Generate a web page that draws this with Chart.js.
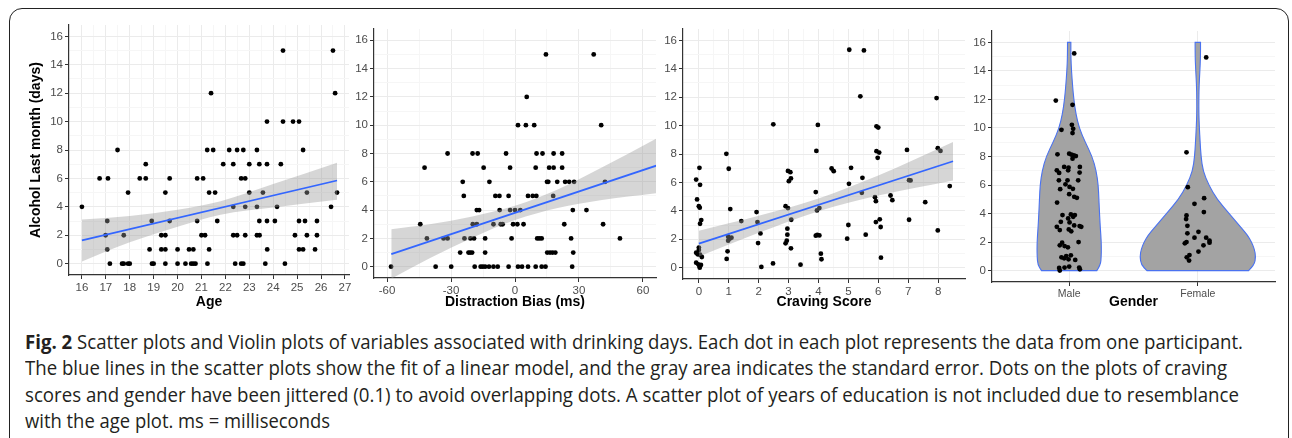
<!DOCTYPE html>
<html>
<head>
<meta charset="utf-8">
<script src="https://cdn.jsdelivr.net/npm/chart.js@4.4.1/dist/chart.umd.min.js"></script>
<style>
  html, body { margin: 0; padding: 0; background: #fff; }
  #page { position: relative; width: 1292px; height: 438px; overflow: hidden; }
  #frame { position: absolute; left: 9px; top: 8px; width: 1278px; height: 480px; border: 1.8px solid #222; border-radius: 13px; }
  canvas.panel { position: absolute; }
  #caption { position: absolute; left: 25px; top: 329px; font-family: 'Open Sans', sans-serif; font-size: 20px; color: #231f20; }
  #caption div { height: 26.3px; line-height: 26.3px; white-space: nowrap; }
  #caption span { display: inline-block; transform-origin: 0 50%; }
</style>
</head>
<body>
<div id="page">
  <div id="frame"></div>
  <canvas id="c-age" class="panel"></canvas>
  <canvas id="c-bias" class="panel"></canvas>
  <canvas id="c-craving" class="panel"></canvas>
  <canvas id="c-gender" class="panel"></canvas>
  <div id="caption">
    <div><span><b>Fig. 2</b> Scatter plots and Violin plots of variables associated with drinking days. Each dot in each plot represents the data from one participant.</span></div>
    <div><span>The blue lines in the scatter plots show the fit of a linear model, and the gray area indicates the standard error. Dots on the plots of craving</span></div>
    <div><span>scores and gender have been jittered (0.1) to avoid overlapping dots. A scatter plot of years of education is not included due to resemblance</span></div>
    <div><span>with the age plot. ms = milliseconds</span></div>
  </div>
</div>
<script>
// ---- data ----
const yTickVals = [0, 2, 4, 6, 8, 10, 12, 14, 16];

const ageTicks = [16, 17, 18, 19, 20, 21, 22, 23, 24, 25, 26, 27];
const ageX = [
  16.0, 16.74, 17.09, 17.06, 16.99, 17.06, 17.17, 17.49, 17.75, 17.68,
  17.75, 17.93, 18.0, 17.93, 18.42, 18.67, 18.67, 18.83, 18.92, 18.93,
  19.0, 19.32, 19.49, 19.32, 19.49, 19.49, 19.49, 19.67, 19.67, 20.0,
  20.0, 20.33, 20.48, 20.66, 20.57, 20.66, 20.75, 20.82, 20.82, 21.07,
  21.0, 21.15, 21.25, 21.24, 21.32, 21.32, 21.4, 21.49, 21.57, 21.66,
  21.91, 22.16, 22.33, 22.33, 22.33, 22.49, 22.41, 22.49, 22.66, 22.83,
  22.75, 22.66, 22.75, 22.83, 22.83, 23.0, 23.0, 23.32, 23.32, 23.32,
  23.43, 23.42, 23.42, 23.57, 23.67, 23.74, 23.74, 23.74, 23.75, 24.07,
  24.16, 24.32, 24.41, 24.41, 24.49, 24.83, 24.91, 25.08, 25.08, 25.08,
  25.25, 25.25, 25.33, 25.41, 25.41, 25.75, 25.83, 25.83, 26.42, 26.5,
  26.59, 26.67
];
const ageDays = [
  4, 6, 6, 3, 2, 1, 0, 8, 2, 0,
  0, 0, 0, 5, 6, 6, 7, 1, 3, 0,
  0, 2, 2, 1, 1, 5, 0, 6, 3, 1,
  0, 0, 1, 1, 0, 0, 0, 6, 3, 6,
  2, 2, 0, 8, 1, 5, 12, 8, 5, 3,
  7, 8, 7, 4, 2, 2, 0, 8, 6, 6,
  8, 0, 0, 4, 2, 7, 5, 8, 4, 2,
  2, 3, 7, 5, 0, 10, 7, 3, 1, 3,
  4, 7, 15, 10, 0, 10, 2, 10, 3, 1,
  8, 1, 3, 5, 2, 1, 3, 2, 4, 15,
  12, 5
];
const ageFitX = [16, 26.67];
const ageFitY = [1.64, 5.85];
const ageBandX = [16, 18, 20, 21.8, 24, 26.67];
const ageBandLow = [0.15, 1.5, 2.6, 3.45, 3.95, 4.5];
const ageBandHigh = [3.1, 3.35, 3.8, 4.4, 5.6, 7.1];

const biasTicks = [-60, -30, 0, 30, 60];
const biasX = [
  -58.1, -44.4, -42.4, -41.3, -37.2, -33.5, -31.6, -31.6, -29.9, -25.7,
  -24.5, -24.0, -23.7, -21.8, -21.0, -20.1, -20.9, -19.2, -19.9, -17.5,
  -19.8, -17.9, -18.9, -17.9, -16.8, -16.1, -15.1, -14.7, -14.0, -14.0,
  -14.0, -12.2, -10.1, -8.1, -12.0, -10.1, -9.2, -7.3, -7.2, -6.7,
  -5.8, -4.2, -3.0, -3.0, -2.3, -2.3, -1.6, -0.9, 1.1, 0,
  2.5, 1.4, 1.4, 3.3, 4.0, 5.5, 5.1, 6.1, 6.1, 8.3,
  10.0, 9.0, 9.7, 9.7, 10.1, 12.9, 10.4, 11.4, 12.5, 12.5,
  14.3, 14.5, 15.0, 15.6, 15.1, 16.4, 17.6, 18.9, 16.0, 18.1,
  17.9, 18.1, 19.8, 22.1, 22.1, 23.1, 23.5, 25.4, 27.7, 26.3,
  27.1, 27.3, 26.8, 33.5, 36.9, 40.4, 41.3, 42.2, 49.2
];
const biasDays = [
  0, 3, 7, 2, 0, 2, 2, 8, 0, 1,
  6, 5, 2, 1, 1, 1, 2, 2, 8, 8,
  3, 3, 0, 4, 4, 0, 0, 7, 2, 1,
  0, 0, 0, 0, 6, 3, 5, 5, 4, 3,
  3, 8, 5, 0, 7, 4, 2, 3, 3, 4,
  4, 10, 0, 0, 3, 12, 10, 5, 0, 5,
  5, 10, 7, 0, 8, 8, 2, 2, 2, 0,
  0, 15, 6, 6, 1, 1, 1, 1, 7, 7,
  5, 8, 6, 8, 7, 3, 6, 6, 6, 2,
  4, 1, 0, 4, 15, 10, 3, 6, 2
];
const biasFitX = [-58, 66.2];
const biasFitY = [0.89, 7.14];
const biasBandX = [-58, -40, -20, 0, 20, 40, 66.2];
const biasBandLow = [-0.85, 0.6, 2.05, 3.3, 4.15, 4.7, 5.2];
const biasBandHigh = [2.65, 3.0, 3.55, 4.3, 5.45, 6.95, 9.05];

const cravingTicks = [0, 1, 2, 3, 4, 5, 6, 7, 8];
const cravingX = [
  -0.09, 0.02, 0.04, -0.06, 0, 0.03, 0.08, 0.04, 0, 0,
  -0.09, -0.04, 0.04, 0.1, -0.09, -0.02, 0.02, 0.07, 0.03, 0.92,
  1.0, 1.05, 0.98, 1.03, 1.09, 0.98, 0.96, 0.93, 1.42, 1.93,
  1.96, 2.06, 1.98, 2.09, 2.49, 2.48, 2.9, 2.98, 2.98, 3.06,
  3.01, 3.08, 3.09, 2.96, 2.96, 2.94, 2.9, 3.08, 3.4, 3.93,
  3.98, 3.91, 3.95, 4.03, 3.91, 3.96, 4.03, 4.08, 4.1, 4.44,
  4.51, 5.03, 5.52, 5.4, 5.09, 5.02, 5.47, 5.45, 5.0, 4.96,
  5.58, 5.94, 6.0, 5.94, 6.03, 5.98, 5.89, 5.92, 5.92, 6.05,
  6.08, 6.09, 6.41, 6.47, 6.96, 7.03, 7.08, 7.03, 7.57, 7.95,
  7.99, 8.08, 7.99, 8.39
];
const cravingDays = [
  6.2, 7.03, 5.83, 4.8, 4.33, 4.22, 3.35, 3.09, 1.41, 1.24,
  1.05, 0.94, 0.91, 0.75, 0.35, 0.23, 0.12, 0.19, 0, 8.01,
  6.96, 4.12, 2.18, 2.04, 2.11, 1.9, 1.15, 0.61, 3.28, 3.91,
  3.21, 2.41, 1.73, 0.05, 10.09, 0.3, 4.33, 4.19, 6.81, 6.72,
  6.09, 6.28, 3.37, 2.74, 2.32, 1.9, 1.71, 1.36, 0.21, 8.22,
  10.05, 5.32, 4.03, 4.19, 2.25, 2.3, 2.27, 0.98, 0.59, 6.98,
  6.79, 15.34, 15.29, 12.06, 7.03, 5.9, 6.32, 5.27, 3.0, 2.04,
  2.32, 9.95, 9.86, 8.2, 8.1, 7.73, 4.96, 4.68, 3.21, 3.4,
  2.86, 0.7, 5.08, 4.75, 8.29, 6.16, 6.14, 3.37, 4.61, 11.94,
  8.41, 8.22, 2.62, 5.74
];
const cravingFitX = [0, 8.5];
const cravingFitY = [1.69, 7.49];
const cravingBandX = [0, 2, 4, 6, 8.5];
const cravingBandLow = [0.79, 2.45, 3.97, 5.08, 6.14];
const cravingBandHigh = [2.6, 3.65, 4.87, 6.48, 8.84];

const genderCats = ['Male', 'Female'];
const maleX = [
  1.039, 0.896, 1.026, 1.021, 1.031, 1.026, 0.94, 0.909, 1.0, 1.018,
  1.036, 1.052, 1.026, 0.961, 0.995, 1.083, 0.904, 0.922, 0.992, 1.081,
  0.92, 0.987, 1.07, 0.971, 1.003, 1.029, 0.93, 1.0, 1.039, 1.06,
  0.906, 0.948, 1.013, 1.031, 1.044, 0.992, 0.935, 1.003, 1.039, 0.904,
  1.081, 1.094, 0.927, 0.997, 1.016, 1.073, 0.945, 0.927, 0.964, 0.99,
  0.94, 0.961, 0.977, 0.995, 1.013, 1.047, 0.922, 0.964, 1.0, 1.078,
  1.083, 0.927
];
const maleDays = [
  15.23, 11.92, 11.62, 10.22, 9.94, 9.64, 9.87, 8.15, 8.2, 8.13,
  8.08, 8.03, 7.85, 7.27, 7.22, 7.27, 7.03, 6.85, 7.03, 6.87,
  6.33, 6.33, 6.33, 6.05, 5.87, 5.73, 5.71, 5.36, 5.17, 5.1,
  4.77, 3.89, 3.94, 3.77, 3.89, 3.66, 3.42, 3.38, 3.17, 3.07,
  3.12, 3.07, 2.84, 2.89, 2.75, 2.0, 1.96, 1.77, 1.72, 1.63,
  0.93, 0.86, 1.02, 0.79, 1.07, 0.75, 0.19, 0.21, 0.28, 0.21,
  0.09, 0.0
];
const femaleX = [
  2.065, 1.912, 1.922, 2.049, 1.974, 2.047, 1.912, 1.909, 1.919, 1.919,
  2.005, 1.974, 2.065, 2.091, 2.091, 1.912, 1.899, 2.044, 2.005, 1.935,
  1.914, 1.932
];
const femaleDays = [
  14.95, 8.29, 5.85, 5.08, 4.68, 4.1, 3.87, 3.61, 3.14, 2.61,
  2.72, 2.31, 2.31, 2.1, 1.96, 2.0, 1.91, 1.77, 1.33, 1.09,
  0.93, 0.7
];
// violin outline: half width (in category units) at each level of days
const violinLevels = [0, 0.4, 1, 1.5, 2, 2.5, 3, 4, 5, 6, 7, 8, 9, 10, 11, 12, 13, 14, 15, 16];
const maleHalfWidth = [0.215, 0.244, 0.249, 0.25, 0.249, 0.246, 0.242, 0.236, 0.231, 0.226, 0.21, 0.179, 0.125, 0.078, 0.052, 0.036, 0.026, 0.018, 0.013, 0.013];
const femaleHalfWidth = [0.395, 0.44, 0.45, 0.44, 0.418, 0.385, 0.338, 0.243, 0.15, 0.085, 0.04, 0.025, 0.018, 0.012, 0.008, 0.008, 0.01, 0.016, 0.021, 0.021];

// ---- styling ----
const AXIS_FONT = "'Liberation Sans', Arial, Helvetica, sans-serif";
const TICK_COLOR = '#4d4d4d';
const GRID_MAJOR = '#ebebeb';
const GRID_MINOR = '#f6f6f6';
const FIT_BLUE = '#3366ff';
const BAND_FILL = 'rgba(153,153,153,0.4)';
const NONE = 'rgba(0,0,0,0)';
const DOT_R = 2.4;

const zip = (xs, ys) => xs.map((x, i) => ({x: x, y: ys[i]}));

// major ticks with minor ticks half way between them
function withMinors(majors, addMinors) {
    const out = [];
    majors.forEach((v, i) => {
        out.push({value: v});
        if (addMinors && i < majors.length - 1) {
            out.push({value: (v + majors[i + 1]) / 2, minor: true});
        }
    });
    return out;
}

function axis(min, max, majors, opts) {
    return {
        type: 'linear',
        min: min,
        max: max,
        afterBuildTicks: s => { s.ticks = withMinors(majors, opts.minors !== false); },
        afterFit: s => {
            if (opts.width !== undefined) s.width = opts.width;
            if (opts.height !== undefined) s.height = opts.height;
        },
        ticks: {
            autoSkip: false,
            maxRotation: 0,
            color: TICK_COLOR,
            padding: 2,
            font: {family: AXIS_FONT, size: opts.tickSize || 11.5},
            callback: (v, i, ticks) => ticks[i].minor ? '' : (opts.label ? opts.label(v) : String(v))
        },
        grid: {
            color: c => (c.tick && c.tick.minor) ? GRID_MINOR : GRID_MAJOR,
            tickColor: c => (c.tick && c.tick.minor) ? NONE : '#333',
            tickLength: 4,
            lineWidth: 1
        },
        border: {display: true, color: '#333', width: 1.2},
        title: {
            display: !!opts.title,
            text: opts.title || '',
            color: '#000',
            font: {family: AXIS_FONT, size: 14, weight: 'bold'},
            padding: opts.titlePad || {top: 0, bottom: 4}
        }
    };
}

function place(id, box) {
    const cv = document.getElementById(id);
    cv.width = box.w;
    cv.height = box.h;
    cv.style.left = box.left + 'px';
    cv.style.top = box.top + 'px';
    cv.style.width = box.w + 'px';
    cv.style.height = box.h + 'px';
    return cv.getContext('2d');
}

function baseOptions(padding, xScale, yScale) {
    return {
        responsive: false,
        animation: false,
        layout: {padding: padding},
        plugins: {legend: {display: false}, tooltip: {enabled: false}},
        scales: {x: xScale, y: yScale}
    };
}

function scatterPanel(id, box, padding, xScale, yScale, xs, ys, fitX, fitY, bandX, bandLow, bandHigh) {
    const ctx = place(id, box);
    return new Chart(ctx, {
        type: 'scatter',
        data: {
            datasets: [
                {
                    type: 'scatter',
                    data: zip(xs, ys),
                    pointRadius: DOT_R,
                    pointBackgroundColor: '#000',
                    pointBorderWidth: 0,
                    order: 3
                },
                {
                    type: 'line',
                    data: zip(bandX, bandLow),
                    borderColor: NONE,
                    borderWidth: 1,
                    pointRadius: 0,
                    fill: false,
                    cubicInterpolationMode: 'monotone',
                    order: 2
                },
                {
                    type: 'line',
                    data: zip(bandX, bandHigh),
                    borderColor: NONE,
                    borderWidth: 1,
                    backgroundColor: BAND_FILL,
                    pointRadius: 0,
                    fill: '-1',
                    cubicInterpolationMode: 'monotone',
                    order: 1
                },
                {
                    type: 'line',
                    data: zip(fitX, fitY),
                    borderColor: FIT_BLUE,
                    borderWidth: 1.7,
                    pointRadius: 0,
                    fill: false,
                    order: 0
                }
            ]
        },
        options: baseOptions(padding, xScale, yScale)
    });
}

const Y_MIN = -0.8, Y_MAX = 16.8;

scatterPanel('c-age', {left: 10, top: 15, w: 360, h: 300}, {top: 10, right: 21, bottom: 0, left: 0},
    axis(15.46, 27.17, ageTicks, {height: 40, title: 'Age'}),
    axis(Y_MIN, Y_MAX, yTickVals, {width: 59, title: 'Alcohol Last month (days)', titlePad: {top: 18, bottom: 0}}),
    ageX, ageDays, ageFitX, ageFitY, ageBandX, ageBandLow, ageBandHigh);

scatterPanel('c-bias', {left: 340, top: 15, w: 340, h: 300}, {top: 14, right: 24, bottom: 0, left: 0},
    axis(-66.1, 66.1, biasTicks, {height: 37, title: 'Distraction Bias (ms)'}),
    axis(Y_MIN, Y_MAX, yTickVals, {width: 34}),
    biasX, biasDays, biasFitX, biasFitY, biasBandX, biasBandLow, biasBandHigh);

scatterPanel('c-craving', {left: 650, top: 15, w: 335, h: 300}, {top: 14, right: 20, bottom: 0, left: 0},
    axis(-0.53, 8.9, cravingTicks, {height: 36, title: 'Craving Score'}),
    axis(Y_MIN, Y_MAX, yTickVals, {width: 33}),
    cravingX, cravingDays, cravingFitX, cravingFitY, cravingBandX, cravingBandLow, cravingBandHigh);

// violins are drawn under the jittered dots, using the chart's own scales
function tracePath(ctx, pts) {
    ctx.lineTo(pts[0][0], pts[0][1]);
    for (let i = 1; i < pts.length - 1; i++) {
        const mx = (pts[i][0] + pts[i + 1][0]) / 2;
        const my = (pts[i][1] + pts[i + 1][1]) / 2;
        ctx.quadraticCurveTo(pts[i][0], pts[i][1], mx, my);
    }
    const last = pts[pts.length - 1];
    ctx.lineTo(last[0], last[1]);
}

const violinPlugin = {
    id: 'violins',
    beforeDatasetsDraw(chart) {
        const {ctx, chartArea, scales} = chart;
        const sx = scales.x, sy = scales.y;
        ctx.save();
        ctx.beginPath();
        ctx.rect(chartArea.left, chartArea.top, chartArea.width, chartArea.height);
        ctx.clip();
        [[1, maleHalfWidth], [2, femaleHalfWidth]].forEach(([center, hw]) => {
            const right = violinLevels.map((lv, i) => [sx.getPixelForValue(center + hw[i]), sy.getPixelForValue(lv)]);
            const left = violinLevels.map((lv, i) => [sx.getPixelForValue(center - hw[i]), sy.getPixelForValue(lv)]).reverse();
            ctx.beginPath();
            ctx.moveTo(right[0][0], right[0][1]);
            tracePath(ctx, right);
            tracePath(ctx, left);
            ctx.closePath();
            ctx.fillStyle = '#a3a3a3';
            ctx.fill();
            ctx.strokeStyle = '#4a72f0';
            ctx.lineWidth = 1.1;
            ctx.stroke();
        });
        ctx.restore();
    }
};

(function genderPanel() {
    const ctx = place('c-gender', {left: 958, top: 15, w: 330, h: 300});
    new Chart(ctx, {
        type: 'scatter',
        data: {
            datasets: [
                {data: zip(maleX, maleDays), pointRadius: DOT_R, pointBackgroundColor: '#000', pointBorderWidth: 0},
                {data: zip(femaleX, femaleDays), pointRadius: DOT_R, pointBackgroundColor: '#000', pointBorderWidth: 0}
            ]
        },
        options: baseOptions({top: 16, right: 13, bottom: 0, left: 0},
            axis(0.4, 2.6, [1, 2], {height: 33, title: 'Gender', minors: false, tickSize: 10.5,
                label: v => genderCats[Math.round(v) - 1]}),
            axis(Y_MIN, Y_MAX, yTickVals, {width: 34})),
        plugins: [violinPlugin]
    });
})();

// fit each caption line to the width it takes in the figure
const captionWidths = [1218, 1202, 1214, 305];
function fitCaption() {
    document.querySelectorAll('#caption span').forEach((sp, i) => {
        sp.style.transform = 'none';
        const w = sp.getBoundingClientRect().width;
        sp.style.transform = 'scaleX(' + (captionWidths[i] / w) + ')';
    });
}
fitCaption();
if (document.fonts) document.fonts.ready.then(fitCaption);
</script>
</body>
</html>
